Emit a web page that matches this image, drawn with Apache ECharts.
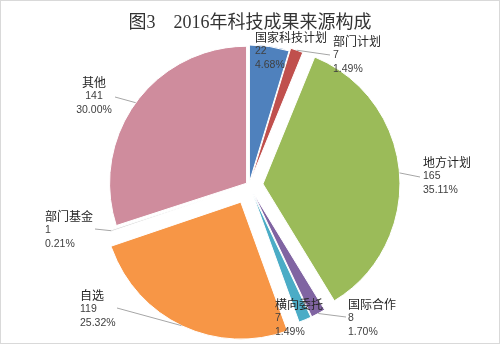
<!DOCTYPE html>
<html><head><meta charset="utf-8">
<script src="https://cdn.jsdelivr.net/npm/echarts@6/dist/echarts.min.js"></script>
<style>html,body{margin:0;padding:0;background:#fff}#main{width:500px;height:344px;box-sizing:border-box;border:1px solid #d9d9d9}</style>
</head><body><div id="main"></div>
<script>
const titleText = '图3\u30002016年科技成果来源构成';
const categories = ['国家科技计划','部门计划','地方计划','国际合作','横向委托','自选','部门基金','其他'];
const values = [22,7,165,8,7,119,1,141];

// styles & layout (not data)
const colors = ['#4f81bd','#c0504d','#9bbb59','#8064a2','#4bacc6','#f79646','#dcdcdc','#cf8c9d'];
const explode = [3,6,14,9,9,19,8,3];
const labelAnchor = [[255,31,'left'],[333,35,'left'],[423,156,'left'],[348,298,'left'],[275,298,'left'],[80,289,'left'],[45,210,'left'],[94,76,'center']];
const leaderEnd = [null,[330,55],[420,177],[346,317],null,[117,308],[95,229],[115,97]];
const CX = 248, CY = 184, R = 137;

const total = values.reduce((a,b)=>a+b,0);
const chart = echarts.init(document.getElementById('main'));
const fmt = p => '{n|' + p.name + '}\n{v|' + p.value + '}\n{v|' + (p.value/total*100).toFixed(2) + '%}';

const base = {type:'pie', center:[CX,CY], radius:R, startAngle:90, clockwise:true, silent:true, avoidLabelOverlap:false};

const sliceSeries = categories.map((_,k)=>Object.assign({}, base, {
  selectedMode:'multiple', selectedOffset:explode[k],
  label:{show:false}, labelLine:{show:false},
  data: categories.map((name,i)=>({name:name, value:values[i], selected:i===k,
    itemStyle:{color:i===k?colors[i]:'rgba(0,0,0,0)', borderColor:'#fff', borderWidth:i===k?1:0}}))
}));

const labelSeries = Object.assign({}, base, {
  z:10,
  data: categories.map((name,i)=>({name:name, value:values[i],
    itemStyle:{color:'rgba(0,0,0,0)', borderWidth:0},
    labelLine:{show:leaderEnd[i]!==null}})),
  label:{show:true, position:'outside', formatter:fmt,
    rich:{n:{fontSize:12,lineHeight:13.5,color:'#262626',fontFamily:'"Noto Sans CJK SC",sans-serif'},
          v:{fontSize:10.5,lineHeight:13.5,color:'#404040',fontFamily:'"Liberation Sans","Noto Sans CJK SC",sans-serif'}}},
  labelLine:{lineStyle:{color:'#a6a6a6',width:1}},
  labelLayout: function(p){
    const i=p.dataIndex, a=labelAnchor[i];
    const r={x:a[0]-1,y:a[1]-1,align:a[2],verticalAlign:'top',hideOverlap:false,moveOverlap:false};
    if(leaderEnd[i] && p.labelLinePoints){
      const p0=p.labelLinePoints[0];
      const dx=p0[0]-CX, dy=p0[1]-CY, L=Math.hypot(dx,dy)||1;
      const s=[p0[0]+dx/L*explode[i], p0[1]+dy/L*explode[i]];
      const e=[leaderEnd[i][0]-1,leaderEnd[i][1]-1];
      r.labelLinePoints=[s,e,e];
    }
    return r;
  }
});

chart.setOption({
  animation:false,
  title:{text:titleText,left:'center',top:8,textStyle:{fontSize:18,fontWeight:'normal',color:'#333333',fontFamily:'"Liberation Serif","Noto Sans CJK SC",serif'}},
  series: sliceSeries.concat([labelSeries])
});
</script></body></html>
